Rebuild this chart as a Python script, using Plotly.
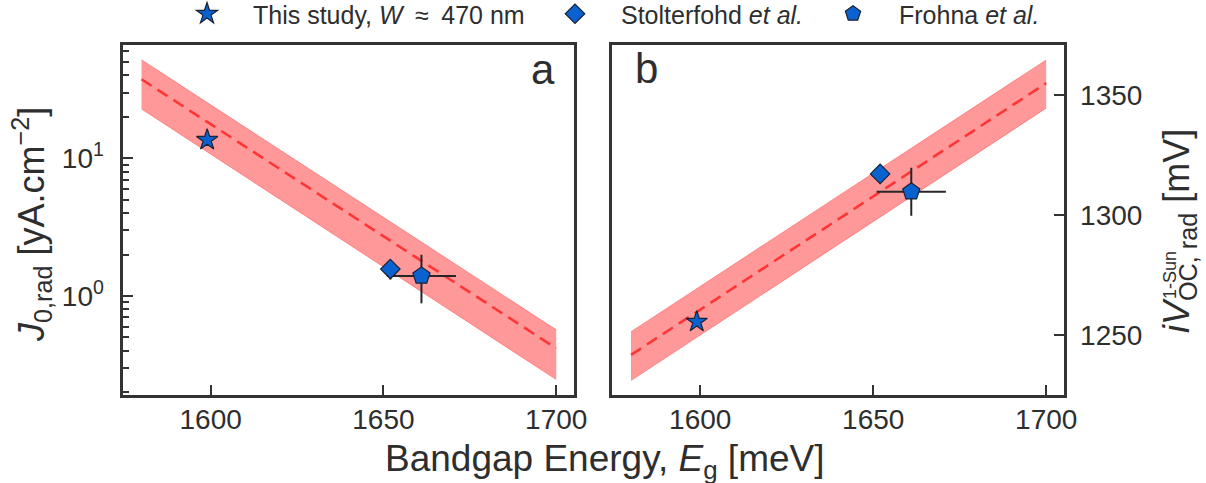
import plotly.graph_objects as go

# ---------------- data ----------------
Eg_fit = [1580, 1700]
J0_fit = [37.5, 0.417]
J0_hi = [52.0, 0.569]
J0_lo = [22.8, 0.247]
iVoc_fit = [1241.7, 1354.9]
iVoc_hi = [1251.4, 1364.6]
iVoc_lo = [1231.0, 1344.5]

series_names = ["This study, <i>W</i>\u2002\u2248\u2002470 nm", "Stolterfohd <i>et al.</i>", "Frohna <i>et al.</i>"]
series_symbols = ["star", "diamond", "pentagon"]
Eg_pts = [1599, 1652, 1661]
Eg_err = [0, 0, 10]
J0_pts = [13.6, 1.57, 1.40]
J0_err_plus = [0, 0.25, 0.59]
J0_err_minus = [0, 0.25, 0.515]
iVoc_pts = [1255.5, 1317.1, 1309.7]
iVoc_err = [0, 4, 10]

x_ticks = [1600, 1650, 1700]
J0_ticks = [1, 10]
J0_ticktext = ["10<sup>0</sup>", "10<sup>1</sup>"]
J0_minor = [0.2, 0.3, 0.4, 0.5, 0.6, 0.7, 0.8, 0.9, 2, 3, 4, 5, 6, 7, 8, 9, 20, 30, 40, 50, 60]
iVoc_ticks = [1250, 1300, 1350]

# ---------------- style ----------------
W, H = 1206, 483
FONT = "Liberation Sans, Arial, Helvetica, sans-serif"
TXT = "#2e2e2e"
AX = "#333333"
BLUE = "#0a62d0"
EDGE = "#1b2233"
BAND = "rgba(255,0,0,0.40)"
BAND_EDGE = "rgba(255,0,0,0.30)"
FITC = "#ff3535"
ERRC = "#262626"
sizes = {"star": 16, "diamond": 15, "pentagon": 18}

fig = go.Figure()

def add_panel(xa, ya, ylo, yhi, yfit, ypts, eplus, eminus, legend_on):
    fig.add_trace(go.Scatter(x=Eg_fit, y=ylo, mode="lines", line=dict(color=BAND_EDGE, width=1),
                             xaxis=xa, yaxis=ya, showlegend=False, hoverinfo="skip"))
    fig.add_trace(go.Scatter(x=Eg_fit, y=yhi, mode="lines", line=dict(color=BAND_EDGE, width=1),
                             fill="tonexty", fillcolor=BAND,
                             xaxis=xa, yaxis=ya, showlegend=False, hoverinfo="skip"))
    fig.add_trace(go.Scatter(x=Eg_fit, y=yfit, mode="lines",
                             line=dict(color=FITC, width=2.6, dash="12px,7px"),
                             xaxis=xa, yaxis=ya, showlegend=False, hoverinfo="skip"))
    # error bars (drawn beneath the markers)
    fig.add_trace(go.Scatter(x=Eg_pts, y=ypts, mode="markers",
                             marker=dict(size=1, color="rgba(0,0,0,0)"),
                             error_x=dict(type="data", array=Eg_err, color=ERRC, thickness=2, width=0),
                             error_y=dict(type="data", array=eplus, arrayminus=eminus, symmetric=False,
                                          color=ERRC, thickness=2, width=0),
                             xaxis=xa, yaxis=ya, showlegend=False, hoverinfo="skip"))
    for i, (name, sym) in enumerate(zip(series_names, series_symbols)):
        fig.add_trace(go.Scatter(x=[Eg_pts[i]], y=[ypts[i]], mode="markers", name=name,
                                 marker=dict(symbol=sym, size=sizes[sym], color=BLUE,
                                             line=dict(color=EDGE, width=1.2)),
                                 xaxis=xa, yaxis=ya, showlegend=legend_on,
                                 legend=["legend", "legend2", "legend3"][i]))

add_panel("x", "y", J0_lo, J0_hi, J0_fit, J0_pts, J0_err_plus, J0_err_minus, True)
add_panel("x2", "y2", iVoc_lo, iVoc_hi, iVoc_fit, iVoc_pts, iVoc_err, iVoc_err, False)

def px(x):
    return x / W

def py(y):
    return 1 - y / H

xdom1 = [px(122.5), px(573.5)]
xdom2 = [px(612), px(1063.5)]
ydom = [py(395), py(45)]
xrange_ = [1574.5, 1705]

common_axis = dict(showline=True, mirror=True, linecolor=AX, linewidth=3,
                   ticks="inside", ticklen=10, tickwidth=2, tickcolor=AX,
                   showgrid=False, zeroline=False,
                   tickfont=dict(family=FONT, size=28, color=TXT))

fig.update_layout(
    width=W, height=H,
    paper_bgcolor="white", plot_bgcolor="white",
    margin=dict(l=0, r=0, t=0, b=0, autoexpand=False),
    xaxis=dict(domain=xdom1, range=xrange_, anchor="y", tickvals=x_ticks, ticklabelstandoff=-3, **common_axis),
    xaxis2=dict(domain=xdom2, range=xrange_, anchor="y2", tickvals=x_ticks, ticklabelstandoff=-3, **common_axis),
    yaxis=dict(domain=ydom, type="log", range=[-0.719, 1.823], anchor="x",
               tickvals=J0_ticks, ticktext=J0_ticktext, ticklabelstandoff=10,
               minor=dict(ticks="inside", ticklen=6, tickwidth=1.5, tickcolor=AX,
                          tickmode="array", tickvals=J0_minor),
               **common_axis),
    yaxis2=dict(domain=ydom, range=[1225, 1370.8], anchor="x2", side="right",
                tickvals=iVoc_ticks, ticklabelstandoff=8, **common_axis),
    showlegend=True,
)

leg_common = dict(orientation="h", yanchor="middle", y=py(14), xanchor="left",
                  font=dict(family=FONT, size=25, color=TXT), bgcolor="rgba(0,0,0,0)",
                  itemwidth=82, borderwidth=0)
fig.update_layout(
    legend=dict(x=px(161), **leg_common),
    legend2=dict(x=px(529), **leg_common),
    legend3=dict(x=px(807), **leg_common),
)

ann_font = dict(family=FONT, color=TXT)
fig.add_annotation(text="a", x=px(543), y=py(70), xref="paper", yref="paper", showarrow=False,
                   xanchor="center", yanchor="middle", font=dict(size=42, **ann_font))
fig.add_annotation(text="b", x=px(646), y=py(69), xref="paper", yref="paper", showarrow=False,
                   xanchor="center", yanchor="middle", font=dict(size=42, **ann_font))
fig.add_annotation(text="Bandgap Energy, <i>E</i><sub>g</sub> [meV]", x=px(605), y=py(461),
                   xref="paper", yref="paper", showarrow=False, xanchor="center", yanchor="middle",
                   font=dict(size=37, **ann_font))
fig.add_annotation(text="<i>J</i><sub>0,rad</sub> [yA.cm<sup>\u22122</sup>]", x=px(31), y=py(225),
                   xref="paper", yref="paper", showarrow=False, xanchor="center", yanchor="middle",
                   textangle=-90, font=dict(size=36, **ann_font))
fig.add_annotation(text="<i>iV</i><sub>OC, rad</sub> [mV]", x=px(1179), y=py(231),
                   xref="paper", yref="paper", showarrow=False, xanchor="center", yanchor="middle",
                   textangle=-90, borderpad=0, font=dict(size=36, **ann_font))
fig.add_annotation(text="1-Sun", x=px(1170), y=py(275),
                   xref="paper", yref="paper", showarrow=False, xanchor="center", yanchor="middle",
                   textangle=-90, font=dict(size=18, **ann_font))

fig.write_html("out.html")
